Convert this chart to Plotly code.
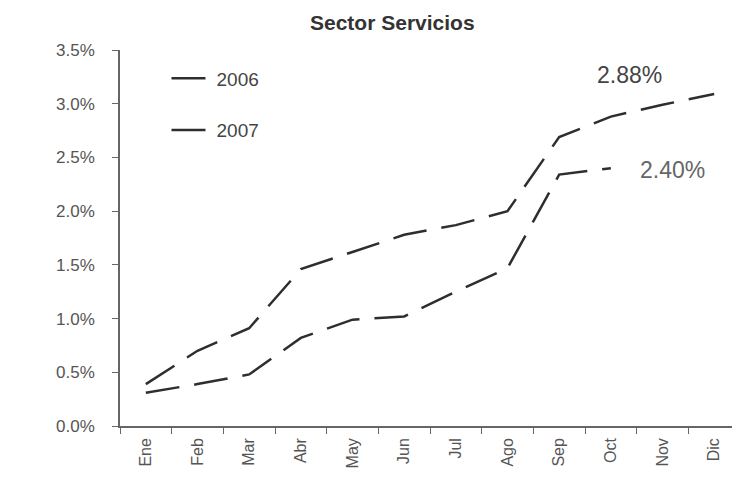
import plotly.graph_objects as go

months = ["Ene", "Feb", "Mar", "Abr", "May", "Jun", "Jul", "Ago", "Sep", "Oct", "Nov", "Dic"]
vals_2006 = [0.39, 0.70, 0.91, 1.46, 1.62, 1.78, 1.87, 2.00, 2.69, 2.88, 2.99, 3.09]
vals_2007 = [0.31, 0.39, 0.48, 0.82, 0.99, 1.02, 1.25, 1.47, 2.34, 2.40]
y_ticks = [0.0, 0.5, 1.0, 1.5, 2.0, 2.5, 3.0, 3.5]
y_tick_labels = ["0.0%", "0.5%", "1.0%", "1.5%", "2.0%", "2.5%", "3.0%", "3.5%"]

line_col = "#2e2e2e"
txt_col = "#555555"
font_fam = "Liberation Sans, Arial, sans-serif"

fig = go.Figure()
fig.add_trace(go.Scatter(x=months, y=vals_2006, mode="lines", name="2006",
                         legendgroup="a",
                         line=dict(color=line_col, width=2.5, dash="34px,15px")))
fig.add_trace(go.Scatter(x=months[:len(vals_2007)], y=vals_2007, mode="lines", name="2007",
                         legendgroup="b",
                         line=dict(color=line_col, width=2.5, dash="34px,15px")))

fig.add_annotation(x="Oct", y=3.27, text="2.88%", showarrow=False, xshift=19,
                   font=dict(size=23, color="#444444", family=font_fam))
fig.add_annotation(x="Nov", y=2.38, text="2.40%", showarrow=False, xshift=10,
                   font=dict(size=23, color="#666666", family=font_fam))

fig.update_layout(
    width=732, height=483,
    paper_bgcolor="white", plot_bgcolor="white",
    margin=dict(l=112, r=0, t=42, b=65),
    title=dict(text="<b>Sector Servicios</b>", x=0.525, xanchor="center", y=0.97, yanchor="middle",
               font=dict(size=21, color="#333333", family=font_fam)),
    font=dict(family=font_fam, color=txt_col),
    showlegend=True,
    legend=dict(x=0.075, y=0.975, xanchor="left", yanchor="top", bgcolor="rgba(0,0,0,0)",
                font=dict(size=19, color="#444444"), tracegroupgap=24, itemwidth=40),
    xaxis=dict(type="category", showgrid=False, showline=True, linecolor="#666666", linewidth=1.5,
               ticks="outside", ticklen=6, tickcolor="#666666", tickson="boundaries",
               tickangle=-90, tickfont=dict(size=16, color=txt_col), range=[-0.5, 11.5],
               ticklabelstandoff=4),
    yaxis=dict(range=[0, 3.5], tickvals=y_ticks, ticktext=y_tick_labels, showgrid=False,
               zeroline=False, showline=True, linecolor="#666666", linewidth=1.5,
               ticks="outside", ticklen=6, tickcolor="#666666", ticklabelstandoff=14,
               tickfont=dict(size=17, color=txt_col)),
)

fig.write_html("out.html")
